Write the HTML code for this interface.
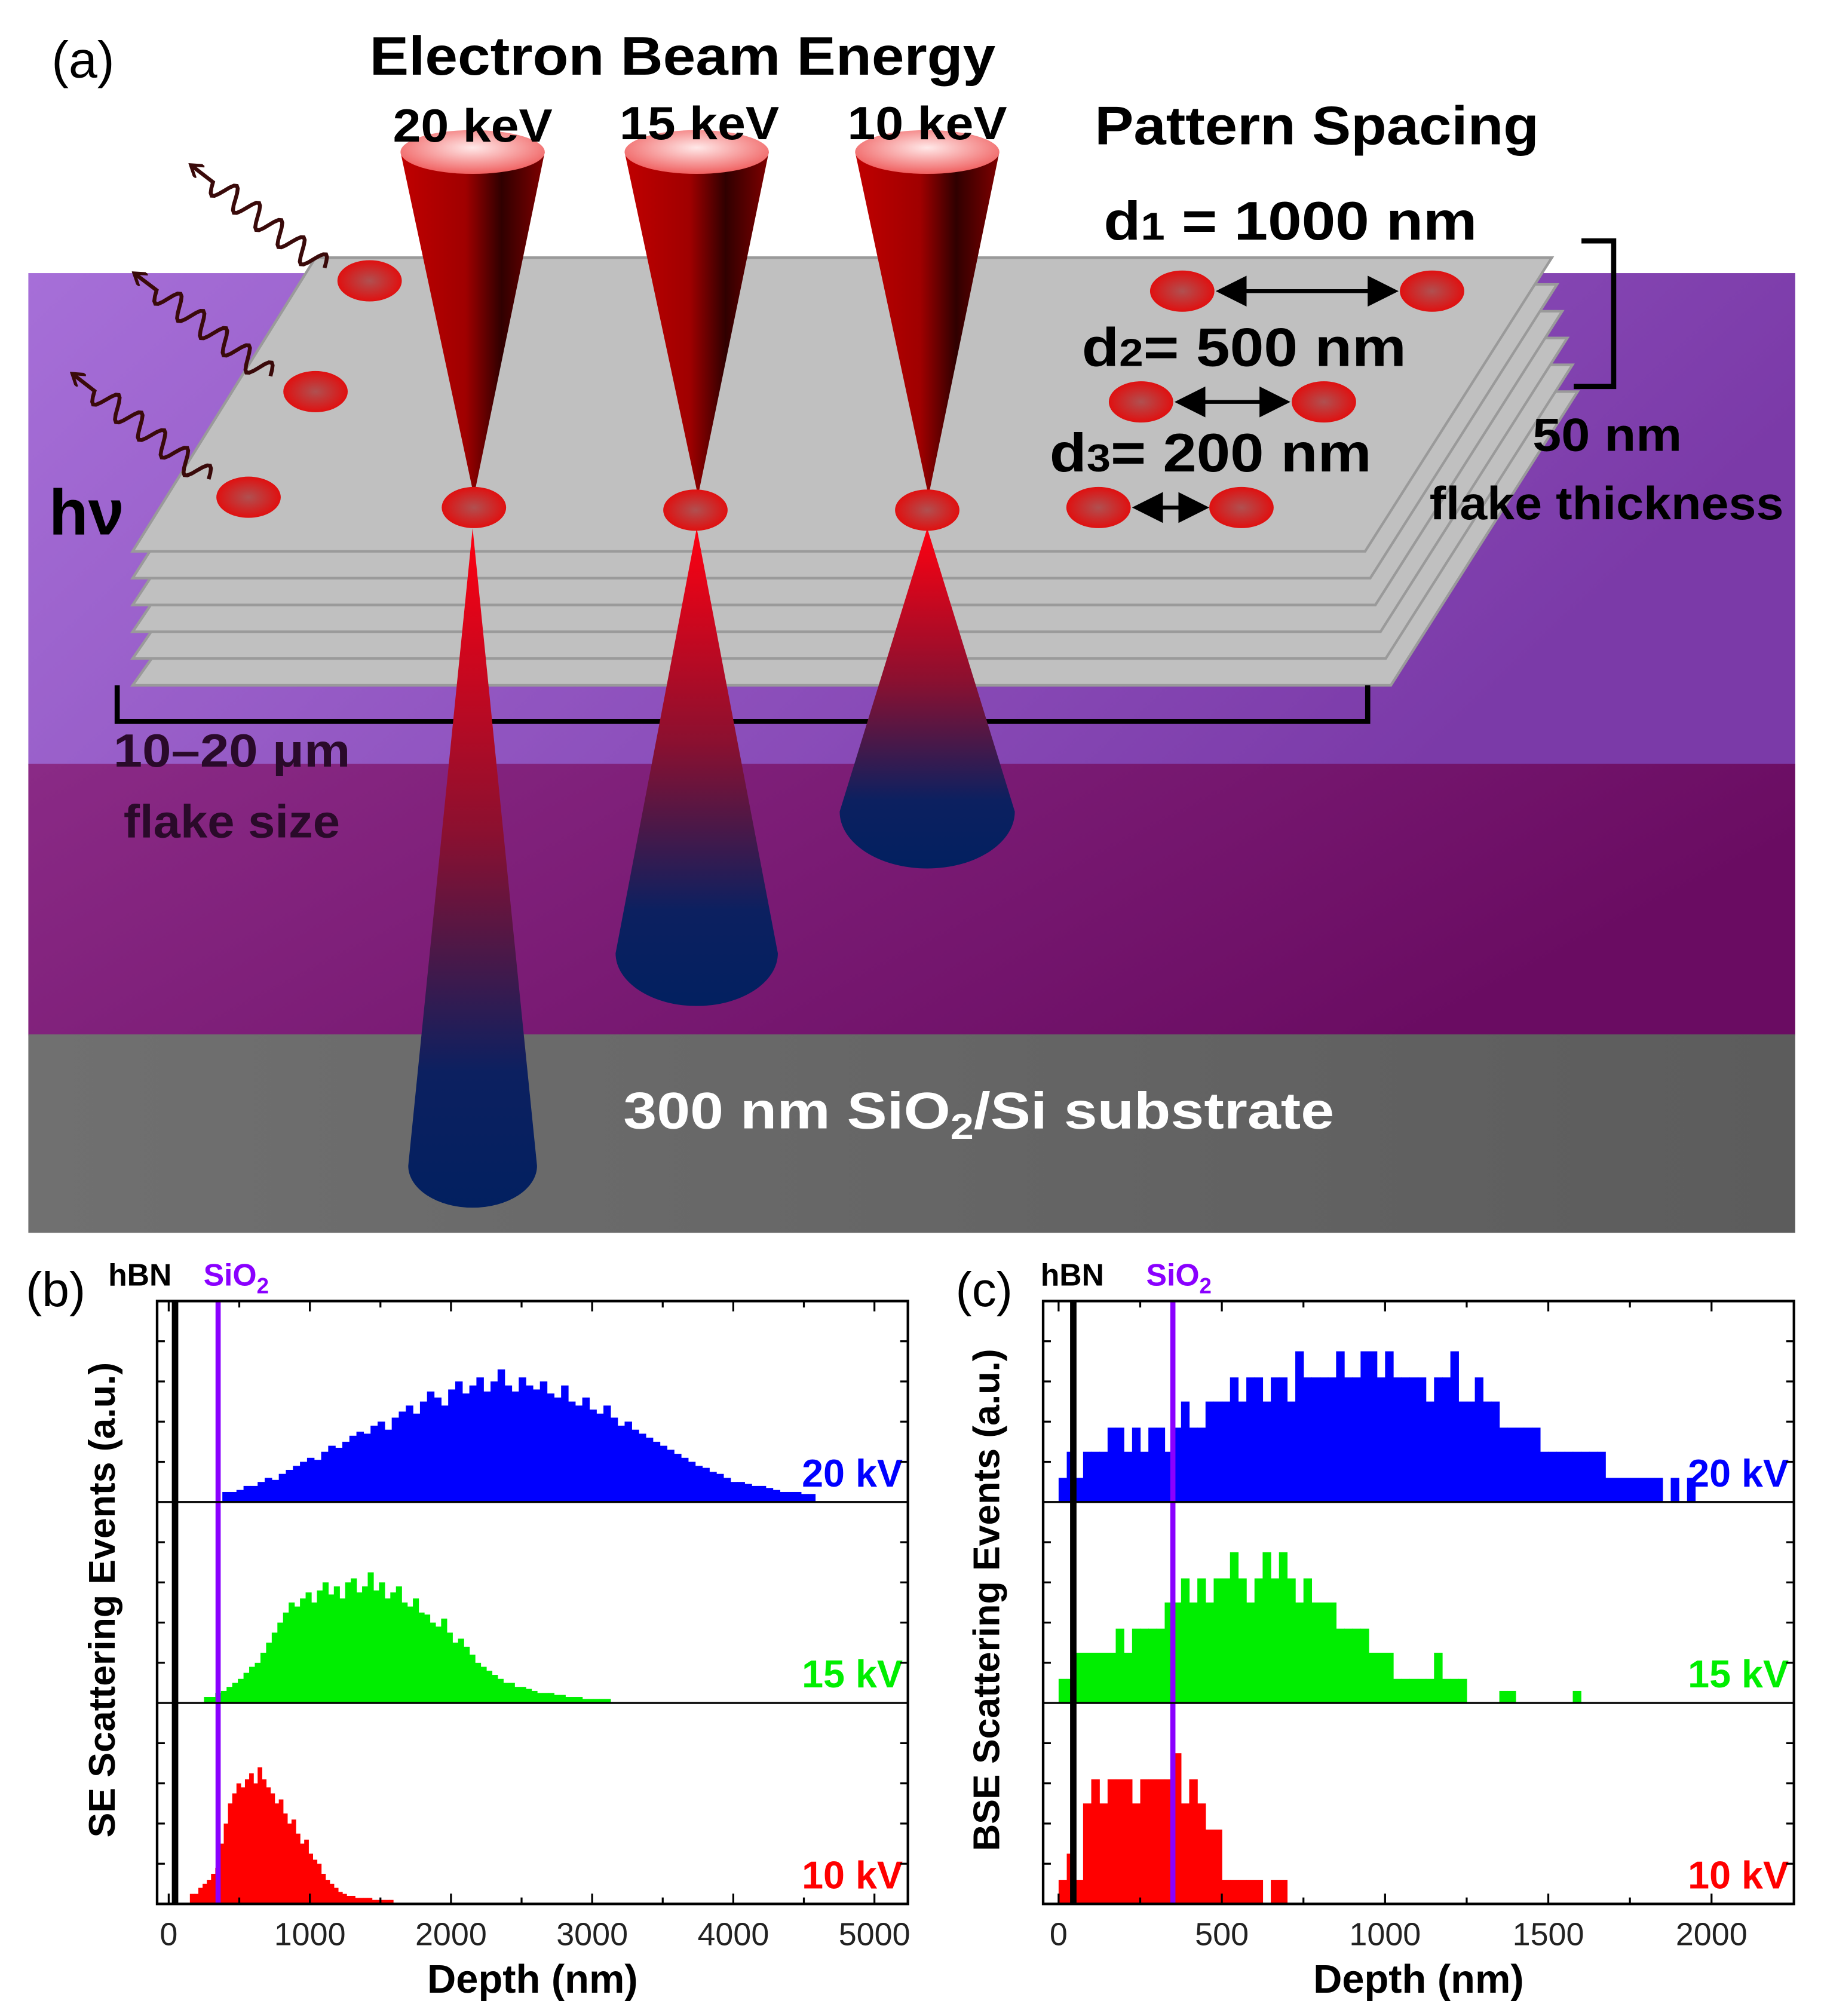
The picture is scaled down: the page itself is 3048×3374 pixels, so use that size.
<!DOCTYPE html>
<html><head><meta charset="utf-8"><style>
html,body{margin:0;padding:0;background:#fff;}
svg{display:block;}
text{font-family:"Liberation Sans",sans-serif;}
</style></head><body>
<svg id="fig" width="3048" height="3374" viewBox="0 0 1414 1565" preserveAspectRatio="none" xmlns="http://www.w3.org/2000/svg">
<defs>
<linearGradient id="gPurp" x1="0" y1="0" x2="1" y2="0.3"><stop offset="0" stop-color="#a66fd8"/><stop offset="1" stop-color="#7b3aa8"/></linearGradient>
<linearGradient id="gDark" x1="0" y1="0" x2="1" y2="0.3"><stop offset="0" stop-color="#8a2a86"/><stop offset="1" stop-color="#6a0c62"/></linearGradient>
<linearGradient id="gGrey" x1="0" y1="0" x2="1" y2="0"><stop offset="0" stop-color="#707070"/><stop offset="1" stop-color="#5c5c5c"/></linearGradient>
<linearGradient id="gCone" x1="0" y1="0" x2="1" y2="0"><stop offset="0" stop-color="#c00000"/><stop offset="0.45" stop-color="#a00000"/><stop offset="0.7" stop-color="#300000"/><stop offset="1" stop-color="#800000"/></linearGradient>
<radialGradient id="gTop" cx="0.5" cy="0.4" r="0.6"><stop offset="0" stop-color="#ffe8e8"/><stop offset="1" stop-color="#f06060"/></radialGradient>
<linearGradient id="gLow" x1="0" y1="0" x2="0" y2="1"><stop offset="0" stop-color="#ff0010"/><stop offset="0.45" stop-color="#8a1030"/><stop offset="0.8" stop-color="#0c2060"/><stop offset="1" stop-color="#022060"/></linearGradient>
<radialGradient id="gDot" cx="0.5" cy="0.5" r="0.5"><stop offset="0" stop-color="#b05050"/><stop offset="1" stop-color="#e01010"/></radialGradient>
<marker id="ah" markerWidth="8" markerHeight="8" refX="6" refY="4" orient="auto-start-reverse"><path d="M0,0 L8,4 L0,8 Z" fill="#000"/></marker>
<marker id="wh" markerWidth="12" markerHeight="12" refX="10" refY="6" orient="auto" markerUnits="userSpaceOnUse"><path d="M1,0 L10,6 L1,12" fill="none" stroke="#3a0a0a" stroke-width="2.5"/></marker>
</defs>

<!-- Panel (a) -->
<g>
<rect x="22" y="212" width="1372" height="382" fill="url(#gPurp)"/>
<rect x="22" y="593" width="1372" height="211" fill="url(#gDark)"/>
<rect x="22" y="803" width="1372" height="154" fill="url(#gGrey)"/>
<g id="flake"></g>
<path d="M91,532 V560 H1062 V532" fill="none" stroke="#000" stroke-width="4"/>
<path d="M1228,187 H1253 V300 H1222" fill="none" stroke="#000" stroke-width="4"/>
<g id="cones"></g>
<g id="dots"></g>
<line x1="950" y1="226" x2="1080" y2="226" stroke="#000" stroke-width="3" marker-start="url(#ah)" marker-end="url(#ah)"/>
<line x1="918" y1="312" x2="996" y2="312" stroke="#000" stroke-width="3" marker-start="url(#ah)" marker-end="url(#ah)"/>
<line x1="885" y1="394" x2="933" y2="394" stroke="#000" stroke-width="3" marker-start="url(#ah)" marker-end="url(#ah)"/>
<g id="waves"></g>
<text x="40" y="60" font-size="40">(a)</text>
<text x="530" y="58" font-size="42" font-weight="bold" text-anchor="middle" textLength="486" lengthAdjust="spacingAndGlyphs">Electron Beam Energy</text>
<text x="367" y="110" font-size="36" font-weight="bold" text-anchor="middle" textLength="124" lengthAdjust="spacingAndGlyphs">20 keV</text>
<text x="543" y="108" font-size="36" font-weight="bold" text-anchor="middle" textLength="124" lengthAdjust="spacingAndGlyphs">15 keV</text>
<text x="720" y="108" font-size="36" font-weight="bold" text-anchor="middle" textLength="124" lengthAdjust="spacingAndGlyphs">10 keV</text>
<text x="850" y="112" font-size="42" font-weight="bold" textLength="345" lengthAdjust="spacingAndGlyphs">Pattern Spacing</text>
<text x="857" y="186" font-size="42" font-weight="bold" textLength="290" lengthAdjust="spacingAndGlyphs">d<tspan font-size="30" dy="0">1</tspan> = 1000 nm</text>
<text x="840" y="284" font-size="42" font-weight="bold" textLength="252" lengthAdjust="spacingAndGlyphs">d<tspan font-size="30">2</tspan>= 500 nm</text>
<text x="815" y="366" font-size="42" font-weight="bold" textLength="250" lengthAdjust="spacingAndGlyphs">d<tspan font-size="30">3</tspan>= 200 nm</text>
<text x="1190" y="350" font-size="36" font-weight="bold" textLength="116" lengthAdjust="spacingAndGlyphs">50 nm</text>
<text x="1110" y="403" font-size="36" font-weight="bold" textLength="275" lengthAdjust="spacingAndGlyphs">flake thickness</text>
<text x="38" y="415" font-size="50" font-weight="bold">hν</text>
<text x="88" y="595" font-size="36" font-weight="bold" fill="#2a0a2a" textLength="184" lengthAdjust="spacingAndGlyphs">10–20 μm</text>
<text x="96" y="650" font-size="36" font-weight="bold" fill="#2a0a2a" textLength="168" lengthAdjust="spacingAndGlyphs">flake size</text>
<text x="760" y="876" font-size="40" font-weight="bold" fill="#fff" text-anchor="middle" textLength="552" lengthAdjust="spacingAndGlyphs">300 nm SiO<tspan font-size="28" dy="8">2</tspan><tspan dy="-8">/Si substrate</tspan></text>
</g>

<!-- Panels (b) and (c) -->
<g id="panelB"></g>
<g id="panelC"></g>

<text x="20" y="1014" font-size="38">(b)</text>
<text x="84" y="998" font-size="24" font-weight="bold">hBN</text>
<text x="158" y="998" font-size="24" font-weight="bold" fill="#8a00ff">SiO<tspan font-size="17" dy="6">2</tspan></text>
<text x="742" y="1014" font-size="38">(c)</text>
<text x="808" y="998" font-size="24" font-weight="bold">hBN</text>
<text x="890" y="998" font-size="24" font-weight="bold" fill="#8a00ff">SiO<tspan font-size="17" dy="6">2</tspan></text>
</svg>

<script>
// ---- Chart data (heights in % of sub-panel height) ----
const seStart20 = 380, seStep20 = 50;
const se20 = [5,5,6,8,8,10,12,11,14,16,18,20,22,21,25,28,27,30,33,35,34,38,40,36,42,45,48,44,50,55,52,48,56,60,54,58,62,55,60,66,58,55,62,58,56,60,54,52,58,50,48,52,46,44,48,42,38,40,36,34,32,30,28,26,24,22,20,18,17,15,14,12,10,10,9,8,8,7,6,5,5,5,4,4];
const seStart15 = 250, seStep15 = 40;
const se15 = [3,3,5,6,8,10,12,15,18,20,25,30,35,40,45,50,48,52,55,50,56,60,54,58,52,60,62,55,58,65,56,60,52,55,58,50,48,52,45,44,40,38,42,35,30,32,28,24,20,18,16,14,12,10,10,8,8,7,6,5,5,5,4,4,3,3,3,2,2,2,2,2];
const seStart10 = 150, seStep10 = 30;
const se10 = [5,5,8,10,12,15,18,30,40,50,55,60,58,62,65,60,68,62,58,55,50,52,45,40,42,35,30,32,25,22,20,15,12,10,8,6,5,4,4,3,3,3,3,2,2,2,2,2];
const bseStep = 25;
const bse20 = [12,25,12,25,25,25,37,37,25,37,25,37,37,25,37,50,37,37,50,50,50,62,50,62,62,50,62,62,50,75,62,62,62,62,75,62,62,75,75,62,75,62,62,62,62,50,62,62,75,50,50,62,50,50,37,37,37,37,37,25,25,25,25,25,25,25,25,12,12,12,12,12,12,12,0,12,0,12];
const bse15 = [12,12,25,25,25,25,25,37,25,37,37,37,37,50,50,62,50,62,50,62,62,75,62,50,62,75,62,75,62,50,62,50,50,50,37,37,37,37,25,25,25,12,12,12,12,12,25,12,12,12,0,0,0,0,6,6,0,0,0,0,0,0,0,6];
const bse10 = [12,25,12,50,62,50,62,62,62,50,62,62,62,62,75,50,62,50,37,37,12,12,12,12,12,0,12,12];
const seTicks = [0,1000,2000,3000,4000,5000];
const bseTicks = [0,500,1000,1500,2000];
const seMax = 5000;
const bseMax = 2000;
const hbnDepth = 45, sio2Depth = 350;
const energyLabels = ["20 kV","15 kV","10 kV"];

const NS = "http://www.w3.org/2000/svg";
function mk(tag, attrs, parent){ const e=document.createElementNS(NS,tag); for(const k in attrs) e.setAttribute(k,attrs[k]); parent.appendChild(e); return e; }

// ---- panel (a) drawn objects ----
const flake = document.getElementById('flake');
for (let i=5;i>=0;i--){
  const dy=i*20.8, dx=i*4;
  const p = mk('polygon',{points:`${245+dx},${200+dy} ${1205+dx},${200+dy} ${1060+dx},${428+dy} ${103},${428+dy}`,fill:'#c0c0c0',stroke:'#9a9a9a','stroke-width':2},flake);
  
  
}
const cones = document.getElementById('cones');
const beams = [{x:367,bot:905,w:50},{x:541,bot:740,w:63},{x:720,bot:630,w:68}];
beams.forEach(b=>{
  const g = mk('g',{},cones);
  
  
  mk('path',{d:`M${b.x-56},118 L${b.x+1},385 L${b.x+56},118 Z`,fill:'url(#gCone)'},g);
  mk('ellipse',{cx:b.x,cy:118,rx:56,ry:17,fill:'url(#gTop)'},g);
  mk('path',{d:`M${b.x},410 L${b.x+b.w},${b.bot} A${b.w},${b.w*0.65} 0 0 1 ${b.x-b.w},${b.bot} Z`,fill:'url(#gLow)'},g);
});
const dots = document.getElementById('dots');
[[287,218],[245,304],[193,386],[368,394],[540,396],[720,396],[918,226],[1112,226],[886,312],[1028,312],[853,394],[964,394]].forEach(d=>{
  const e = mk('ellipse',{cx:d[0],cy:d[1],rx:25,ry:16,fill:'url(#gDot)'},dots);
  
  
});
// photon waves
const waves = document.getElementById('waves');
[[[252,208],[148,128]],[[210,292],[104,212]],[[162,372],[56,290]]].forEach(w=>{
  const [a,b]=w, dx=b[0]-a[0], dy=b[1]-a[1], L=Math.hypot(dx,dy);
  const ux=dx/L, uy=dy/L, px=-uy, py=ux;
  let d=`M${a[0]},${a[1]}`;
  const n=60;
  for(let i=1;i<=n;i++){
    const t=i/n*(L-22), amp=(i<n)?9*Math.sin(i/n*5*2*Math.PI):0;
    d+=` L${(a[0]+ux*t+px*amp).toFixed(1)},${(a[1]+uy*t+py*amp).toFixed(1)}`;
  }
  d+=` L${b[0]},${b[1]}`;
  const p = mk('path',{d:d,fill:'none',stroke:'#3a0a0a','stroke-width':3,'marker-end':'url(#wh)'},waves);
  
  
});

// ---- charts ----
function chart(parentId, L, R, x0, xEnd, xmax, ticks, series, titleY){
  const parent = document.getElementById(parentId);
  const T=1010, B=1478, H=(B-T)/3;
  const sx = v => x0 + (v/xmax)*(xEnd-x0);
  mk('rect',{x:L,y:T,width:R-L,height:B-T,fill:'#fff'},parent);
  const colors=['#0000ff','#00ee00','#ff0000'];
  series.forEach((s,k)=>{
    const base = T+H*(k+1);
    const g = mk('g',{},parent);
    
    
    s.vals.forEach((v,i)=>{
      if(v<=0) return;
      const xa=sx(s.start+i*s.step), xb=sx(s.start+(i+1)*s.step);
      const h=v/100*H;
      const r = mk('rect',{x:xa,y:base-h,width:xb-xa+0.3,height:h,fill:colors[k]},g);
      
      
    });
    const lab = mk('text',{x:R-4,y:base-12,'font-size':30,'font-weight':'bold','text-anchor':'end',fill:colors[k]},parent);
    lab.textContent = energyLabels[k];
    
    
    for(let j=1;j<5;j++){
      const yy = base - H*j/5;
      mk('line',{x1:L,y1:yy,x2:L+6,y2:yy,stroke:'#000','stroke-width':1.5},parent);
      mk('line',{x1:R,y1:yy,x2:R-6,y2:yy,stroke:'#000','stroke-width':1.5},parent);
    }
  });
  const hb = mk('line',{x1:sx(hbnDepth),y1:T,x2:sx(hbnDepth),y2:B,stroke:'#000','stroke-width':5},parent);
  
  
  const si = mk('line',{x1:sx(sio2Depth),y1:T,x2:sx(sio2Depth),y2:B,stroke:'#8a00ff','stroke-width':4},parent);
  
  
  for(let k=1;k<3;k++) mk('line',{x1:L,y1:T+H*k,x2:R,y2:T+H*k,stroke:'#000','stroke-width':1.5},parent);
  mk('rect',{x:L,y:T,width:R-L,height:B-T,fill:'none',stroke:'#000','stroke-width':2},parent);
  const step = ticks[1]-ticks[0];
  for(let v=0; v<=xmax*1.06; v+=step/2){
    const xx=sx(v), len = (v%step===0)?8:5;
    if(xx>R) break;
    mk('line',{x1:xx,y1:B,x2:xx,y2:B-len,stroke:'#000','stroke-width':1.5},parent);
    mk('line',{x1:xx,y1:T,x2:xx,y2:T+len,stroke:'#000','stroke-width':1.5},parent);
  }
  ticks.forEach(v=>{
    const t = mk('text',{x:sx(v),y:1510,'font-size':25,'text-anchor':'middle',fill:'#222'},parent);
    t.textContent = v;
    
    
  });
  const xt = mk('text',{x:(L+R)/2,y:1547,'font-size':31,'font-weight':'bold','text-anchor':'middle'},parent);
  xt.textContent='Depth (nm)';
  
  
  const yt = mk('text',{x:0,y:0,'font-size':29,'font-weight':'bold','text-anchor':'middle',transform:`translate(${titleY.x},1242) rotate(-90)`},parent);
  yt.textContent=titleY.t;
  
  
}
chart('panelB',122,705,131,679,seMax,seTicks,[
  {start:seStart20,step:seStep20,vals:se20},
  {start:seStart15,step:seStep15,vals:se15},
  {start:seStart10,step:seStep10,vals:se10}],{x:89,t:'SE Scattering Events (a.u.)'});
chart('panelC',810,1393,822,1329,bseMax,bseTicks,[
  {start:0,step:bseStep,vals:bse20},
  {start:0,step:bseStep,vals:bse15},
  {start:0,step:bseStep,vals:bse10}],{x:776,t:'BSE Scattering Events (a.u.)'});
</script>
</body></html>
